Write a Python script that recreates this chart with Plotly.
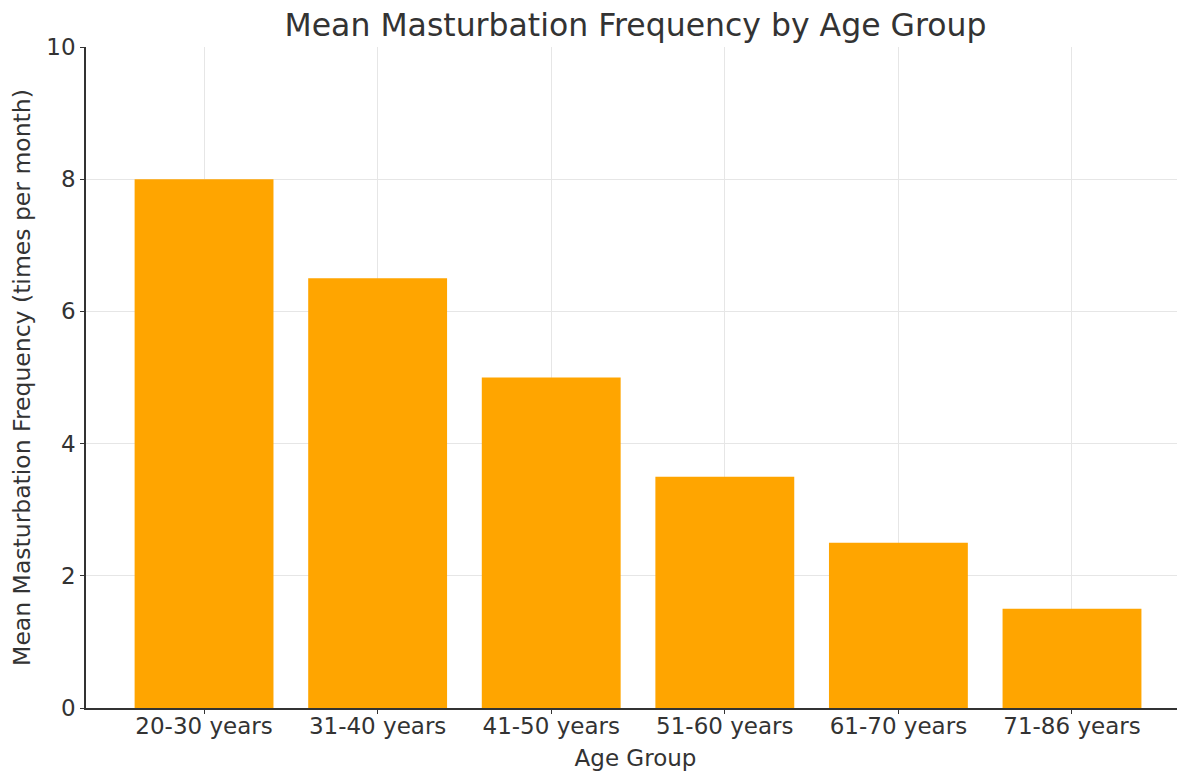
import plotly.graph_objects as go

age_groups = ["20-30 years", "31-40 years", "41-50 years", "51-60 years", "61-70 years", "71-86 years"]
mean_frequency = [8, 6.5, 5, 3.5, 2.5, 1.5]

FONT = "DejaVu Sans"
TXT = "#333333"

# page has an 8px body margin; figure is sized/offset to compensate
W, H = 1177, 763
L, T, B = 78, 39, 63

fig = go.Figure()
fig.add_trace(go.Bar(
    x=age_groups, y=mean_frequency, width=0.8,
    marker=dict(color="#FFA500", line=dict(width=0)),
))

fig.update_layout(
    width=W, height=H,
    margin=dict(l=L, r=0, t=T, b=B, pad=0),
    paper_bgcolor="white", plot_bgcolor="white",
    font=dict(family=FONT, color=TXT),
    showlegend=False,
    title=dict(text="Mean Masturbation Frequency by Age Group",
               x=(L + (W - L) / 2) / W, xanchor="center",
               y=1 - 17 / H, yanchor="middle",
               font=dict(size=31.5, family=FONT, color=TXT)),
)
fig.update_xaxes(
    range=[-0.68, 5.651],
    showgrid=True, gridcolor="#e6e6e6", gridwidth=1,
    showline=True, linecolor="#333333", linewidth=1.5,
    ticks="outside", ticklen=4, tickcolor="#333333",
    ticklabelstandoff=-7,
    tickfont=dict(size=23, family=FONT, color=TXT),
    title=dict(text="Age Group", font=dict(size=23, family=FONT, color=TXT), standoff=12),
)
fig.update_yaxes(
    range=[0, 10], tickvals=[0, 2, 4, 6, 8, 10],
    showgrid=True, gridcolor="#e6e6e6", gridwidth=1,
    showline=True, linecolor="#333333", linewidth=1.5,
    ticks="outside", ticklen=4, tickcolor="#333333",
    tickfont=dict(size=23, family=FONT, color=TXT),
    zeroline=False,
    title=dict(text="Mean Masturbation Frequency (times per month)",
               font=dict(size=23.5, family=FONT, color=TXT), standoff=10),
)

fig.write_html("out.html")
